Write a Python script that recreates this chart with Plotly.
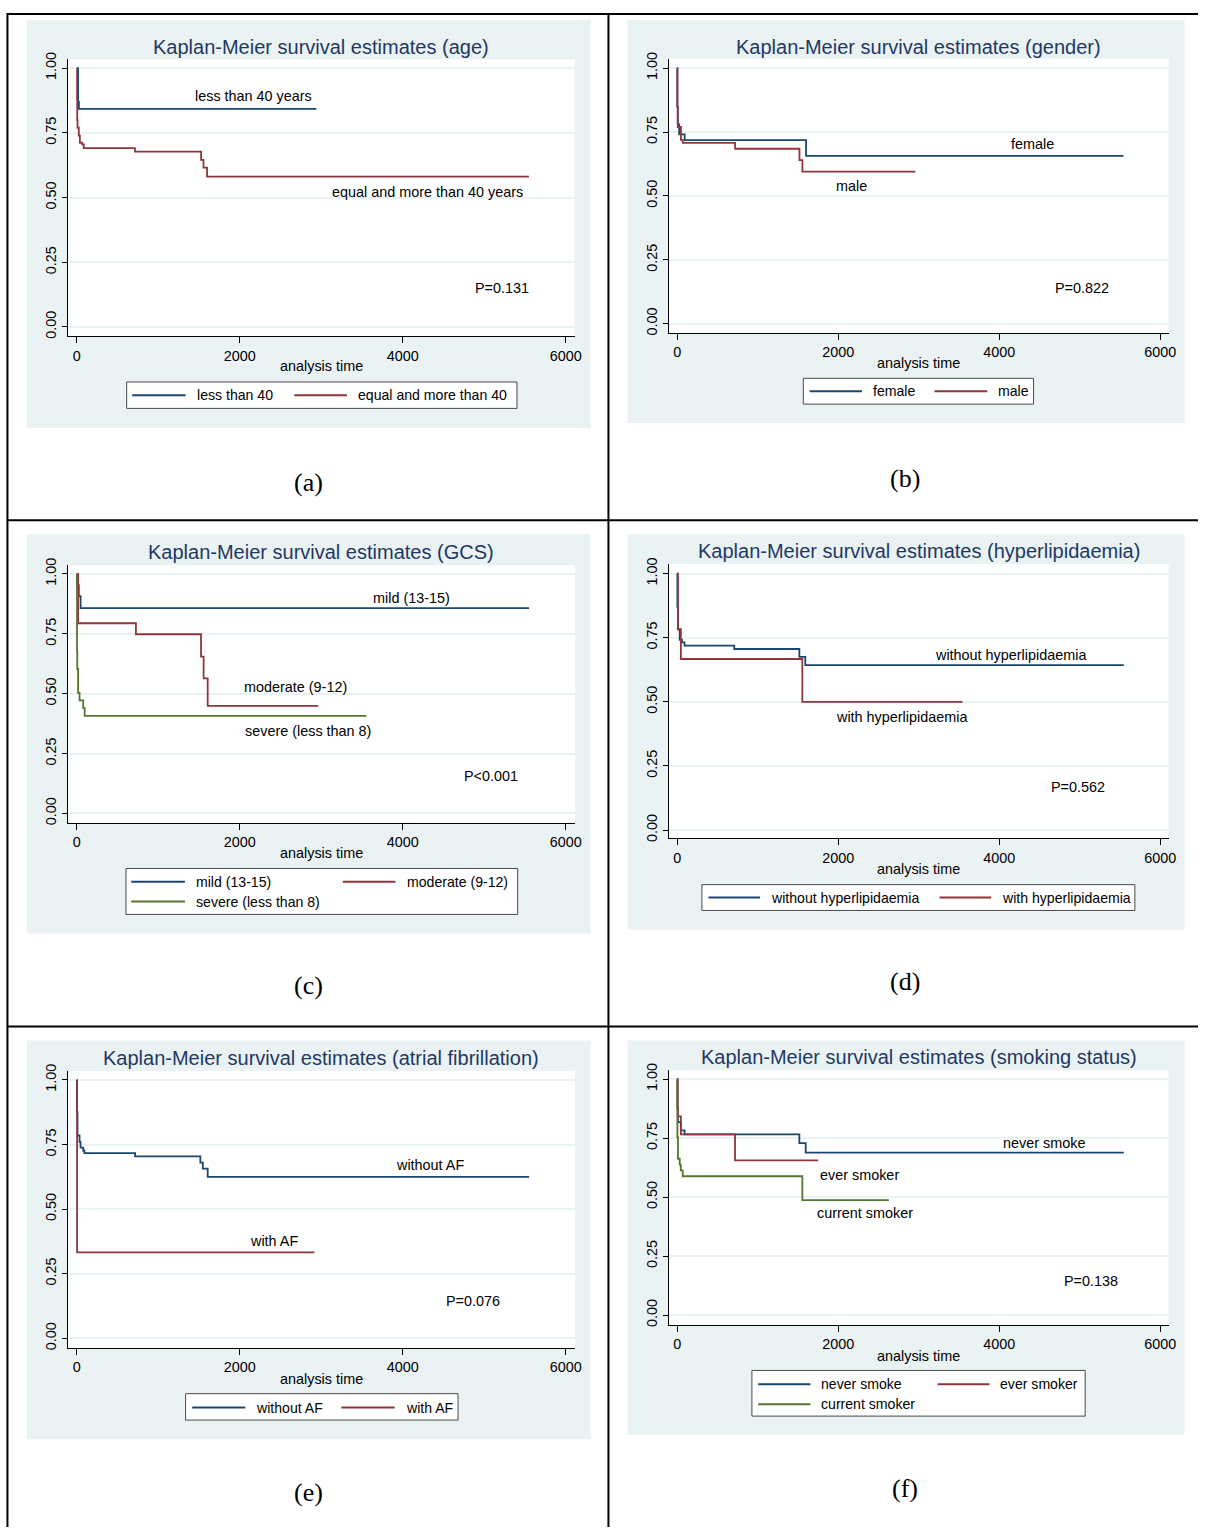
import plotly.graph_objects as go

W, H = 1205, 1531

NAVY = "#1a476f"
MAROON = "#90353b"
GREEN = "#55752f"
PANEL_BG = "#eaf2f3"
GRID = "#eaf2f3"
TITLE_COLOR = "#1f3864"
SANS = "Liberation Sans, Arial, Helvetica, sans-serif"
SERIF = "Liberation Serif, Times New Roman, serif"
TEXT_SIZE = 14.4
LEGEND_SIZE = 14.1

# shared axis ticks
x_ticks = [0, 2000, 4000, 6000]
y_ticks = [0.0, 0.25, 0.50, 0.75, 1.00]

# (a) age
age_lt40_t = [0, 15, 25, 2940]
age_lt40_s = [1.0, 0.87, 0.843, 0.843]
age_ge40_t = [0, 3, 5, 8, 24, 37, 66, 85, 713, 1525, 1554, 1598, 5549]
age_ge40_s = [1.0, 0.88, 0.80, 0.77, 0.74, 0.712, 0.706, 0.691, 0.678, 0.646, 0.616, 0.581, 0.581]

# (b) gender
female_t = [0, 3, 8, 25, 93, 1601, 5543]
female_s = [1.0, 0.85, 0.78, 0.741, 0.719, 0.657, 0.657]
male_t = [0, 3, 8, 47, 70, 720, 1519, 1556, 2960]
male_s = [1.0, 0.85, 0.77, 0.72, 0.708, 0.685, 0.640, 0.595, 0.595]

# (c) GCS
mild_t = [0, 5, 24, 46, 5551]
mild_s = [1.0, 0.953, 0.907, 0.857, 0.857]
moderate_t = [0, 15, 725, 1524, 1556, 1606, 2962]
moderate_s = [1.0, 0.794, 0.748, 0.655, 0.564, 0.449, 0.449]
severe_t = [0, 2, 5, 15, 33, 78, 96, 3553]
severe_s = [1.0, 0.675, 0.603, 0.503, 0.472, 0.44, 0.407, 0.407]

# (d) hyperlipidaemia
no_hl_t = [0, 3, 10, 32, 59, 91, 709, 1518, 1592, 5548]
no_hl_s = [1.0, 0.87, 0.783, 0.742, 0.732, 0.719, 0.706, 0.675, 0.643, 0.643]
hl_t = [0, 10, 46, 1555, 3543]
hl_s = [1.0, 0.783, 0.667, 0.5, 0.5]

# (e) atrial fibrillation
no_af_t = [0, 3, 8, 33, 45, 78, 92, 715, 1516, 1546, 1606, 5551]
no_af_s = [1.0, 0.875, 0.785, 0.76, 0.738, 0.727, 0.717, 0.704, 0.68, 0.657, 0.625, 0.625]
af_t = [0, 3, 2916]
af_s = [1.0, 0.333, 0.333]

# (f) smoking status
never_t = [0, 3, 10, 46, 92, 1518, 1597, 5548]
never_s = [1.0, 0.88, 0.818, 0.783, 0.766, 0.729, 0.689, 0.689]
ever_t = [0, 8, 46, 719, 1752]
ever_s = [1.0, 0.843, 0.766, 0.656, 0.656]
current_t = [0, 3, 10, 32, 45, 69, 1555, 2629]
current_s = [1.0, 0.755, 0.663, 0.638, 0.614, 0.589, 0.488, 0.488]

# Panel geometry in page pixels:
# bg = grey graph region, plot = white plot region (l, t, r, b),
# x0/x6 = pixel of t=0 / t=6000, y1/y0 = pixel of S=1 / S=0
panels = [
    dict(title="Kaplan-Meier survival estimates (age)", tag="(a)", tag_xy=(310, 479),
         bg=(27, 13, 594, 424), plot=(68, 52.7, 578, 331.7), x0=77.3, x6=569, y1=61.7, y0=322.3,
         title_y=40, xtitle_y=362,
         series=[(age_lt40_t, age_lt40_s, NAVY, "less than 40"),
                 (age_ge40_t, age_ge40_s, MAROON, "equal and more than 40")],
         legend_box=(127.4, 377.7, 520, 404.3),
         legend_keys=[(133, 186.7, 196, 391, 0), (296, 349, 357.8, 391, 1)],
         labels=[("less than 40 years", 255, 90), ("equal and more than 40 years", 430, 186)],
         p=("P=0.131", 505, 283.3)),
    dict(title="Kaplan-Meier survival estimates (gender)", tag="(b)", tag_xy=(910, 475),
         bg=(631, 13, 1191.5, 419), plot=(673, 52, 1175.6, 328), x0=681.1, x6=1167, y1=61.7, y0=319,
         title_y=40, xtitle_y=359,
         series=[(female_t, female_s, NAVY, "female"),
                 (male_t, male_s, MAROON, "male")],
         legend_box=(808, 374, 1039.6, 400),
         legend_keys=[(814.4, 867, 875.6, 387, 0), (940, 993, 1001.5, 387, 1)],
         labels=[("female", 1038.5, 138), ("male", 856, 180.7)],
         p=("P=0.822", 1088.5, 282.7)),
    dict(title="Kaplan-Meier survival estimates (GCS)", tag="(c)", tag_xy=(310, 986),
         bg=(27, 531, 594, 933.3), plot=(68, 562.3, 578.5, 821.7), x0=77.3, x6=569, y1=571, y0=812.3,
         title_y=549, xtitle_y=852.3,
         series=[(mild_t, mild_s, NAVY, "mild (13-15)"),
                 (moderate_t, moderate_s, MAROON, "moderate (9-12)"),
                 (severe_t, severe_s, GREEN, "severe (less than 8)")],
         legend_box=(126.7, 867.7, 520.7, 914),
         legend_keys=[(132, 186, 194.8, 881, 0), (344.8, 397.8, 407, 881, 1), (132, 186, 194.8, 901, 2)],
         labels=[("mild (13-15)", 413.5, 595.3), ("moderate (9-12)", 297, 685.3),
                 ("severe (less than 8)", 309.3, 729.3)],
         p=("P<0.001", 493.7, 774.3)),
    dict(title="Kaplan-Meier survival estimates (hyperlipidaemia)", tag="(d)", tag_xy=(910, 982),
         bg=(631, 531, 1191.5, 929.3), plot=(673, 561, 1175.6, 837.3), x0=681.1, x6=1167, y1=570.7, y0=829,
         title_y=548.3, xtitle_y=868.3,
         series=[(no_hl_t, no_hl_s, NAVY, "without hyperlipidaemia"),
                 (hl_t, hl_s, MAROON, "with hyperlipidaemia")],
         legend_box=(706, 884, 1141.5, 910),
         legend_keys=[(712.6, 764.4, 773.7, 897, 0), (945, 997, 1006, 897, 1)],
         labels=[("without hyperlipidaemia", 1016.9, 652.3), ("with hyperlipidaemia", 906.7, 715)],
         p=("P=0.562", 1084.4, 785.3)),
    dict(title="Kaplan-Meier survival estimates (atrial fibrillation)", tag="(e)", tag_xy=(310, 1496),
         bg=(27, 1041, 594, 1442.7), plot=(68, 1071.7, 578.5, 1350.7), x0=77.3, x6=569, y1=1080.7, y0=1341,
         title_y=1058.3, xtitle_y=1381.7,
         series=[(no_af_t, no_af_s, NAVY, "without AF"),
                 (af_t, af_s, MAROON, "with AF")],
         legend_box=(186.7, 1396.7, 460.7, 1423.3),
         legend_keys=[(193.3, 246.7, 255.2, 1410.7, 0), (343.3, 397, 406.3, 1410.7, 1)],
         labels=[("without AF", 433, 1166), ("with AF", 275.6, 1242.7)],
         p=("P=0.076", 475.7, 1303.3)),
    dict(title="Kaplan-Meier survival estimates (smoking status)", tag="(f)", tag_xy=(910, 1492),
         bg=(631, 1041, 1191.5, 1438.3), plot=(673, 1071, 1175.6, 1327.3), x0=681.1, x6=1167, y1=1080, y0=1317.7,
         title_y=1057.3, xtitle_y=1358.3,
         series=[(never_t, never_s, NAVY, "never smoke"),
                 (ever_t, ever_s, MAROON, "ever smoker"),
                 (current_t, current_s, GREEN, "current smoker")],
         legend_box=(756.3, 1373.3, 1091.5, 1419.3),
         legend_keys=[(762.6, 815.2, 823.7, 1387.3, 0), (943, 995.2, 1004, 1387.3, 1),
                      (762.6, 815.2, 823.7, 1407.3, 2)],
         labels=[("never smoke", 1050.6, 1144.3), ("ever smoker", 865, 1176),
                 ("current smoker", 870.4, 1215)],
         p=("P=0.138", 1097.2, 1283.3)),
]


def fx(x):
    return x / W


def fy(y):
    return 1 - y / H


fig = go.Figure()
shapes = []
annotations = []
layout_axes = {}

for i, pn in enumerate(panels, start=1):
    xa = "x" if i == 1 else f"x{i}"
    ya = "y" if i == 1 else f"y{i}"
    l, t, r, b = pn["plot"]
    bl, bt, br, bb = pn["bg"]

    # grey graph region and white plot region
    shapes.append(dict(type="rect", xref="paper", yref="paper", layer="below",
                       x0=fx(bl), x1=fx(br), y0=fy(bb), y1=fy(bt),
                       fillcolor=PANEL_BG, line=dict(width=0)))
    shapes.append(dict(type="rect", xref="paper", yref="paper", layer="below",
                       x0=fx(l), x1=fx(r), y0=fy(b), y1=fy(t),
                       fillcolor="white", line=dict(width=0)))

    # axis ranges so that ticks land on the calibrated pixels
    tpp = 6000.0 / (pn["x6"] - pn["x0"])
    spp = 1.0 / (pn["y0"] - pn["y1"])
    xrange = [(l - pn["x0"]) * tpp, (r - pn["x0"]) * tpp]
    yrange = [(pn["y0"] - b) * spp, (pn["y0"] - t) * spp]

    layout_axes["xaxis" if i == 1 else f"xaxis{i}"] = dict(
        domain=[fx(l), fx(r)], range=xrange, anchor=ya,
        tickmode="array", tickvals=x_ticks, ticks="outside", ticklen=6, tickwidth=1,
        tickcolor="black", showline=True, linecolor="black", linewidth=1,
        showgrid=False, zeroline=False, tickfont=dict(family=SANS, size=TEXT_SIZE, color="black"),
        fixedrange=True)
    layout_axes["yaxis" if i == 1 else f"yaxis{i}"] = dict(
        domain=[fy(b), fy(t)], range=yrange, anchor=xa,
        tickmode="array", tickvals=y_ticks, tickformat=".2f", ticks="outside", ticklen=5,
        tickwidth=1, tickcolor="black", tickangle=-90,
        showline=True, linecolor="black", linewidth=1,
        showgrid=True, gridcolor=GRID, gridwidth=2, zeroline=False,
        tickfont=dict(family=SANS, size=TEXT_SIZE, color="black"), fixedrange=True)

    for (tt, ss, col, name) in pn["series"]:
        fig.add_trace(go.Scatter(x=tt, y=ss, mode="lines", name=name,
                                 line=dict(color=col, width=1.8, shape="hv"),
                                 xaxis=xa, yaxis=ya, showlegend=False,
                                 hoverinfo="skip"))

    # title and x-axis caption
    annotations.append(dict(text=pn["title"], x=fx((l + r) / 2), y=fy(pn["title_y"]),
                            xref="paper", yref="paper", showarrow=False,
                            xanchor="center", yanchor="middle",
                            font=dict(family=SANS, size=20, color=TITLE_COLOR)))
    annotations.append(dict(text="analysis time", x=fx((l + r) / 2), y=fy(pn["xtitle_y"]),
                            xref="paper", yref="paper", showarrow=False,
                            xanchor="center", yanchor="middle",
                            font=dict(family=SANS, size=TEXT_SIZE, color="black")))

    # curve labels and p-value
    for (txt, cx, cy) in pn["labels"] + [pn["p"]]:
        annotations.append(dict(text=txt, x=fx(cx), y=fy(cy), xref="paper", yref="paper",
                                showarrow=False, xanchor="center", yanchor="middle",
                                font=dict(family=SANS, size=TEXT_SIZE, color="black")))

    # legend box with line keys
    lx0, ly0, lx1, ly1 = pn["legend_box"]
    shapes.append(dict(type="rect", xref="paper", yref="paper", layer="above",
                       x0=fx(lx0), x1=fx(lx1), y0=fy(ly1), y1=fy(ly0),
                       fillcolor="white", line=dict(color="#4a4a4a", width=1)))
    for (kx0, kx1, tx, ky, si) in pn["legend_keys"]:
        col = pn["series"][si][2]
        shapes.append(dict(type="line", xref="paper", yref="paper", layer="above",
                           x0=fx(kx0), x1=fx(kx1), y0=fy(ky), y1=fy(ky),
                           line=dict(color=col, width=2)))
        annotations.append(dict(text=pn["series"][si][3], x=fx(tx), y=fy(ky),
                                xref="paper", yref="paper", showarrow=False,
                                xanchor="left", yanchor="middle",
                                font=dict(family=SANS, size=LEGEND_SIZE, color="black")))

    # panel tag below each graph
    annotations.append(dict(text=pn["tag"], x=fx(pn["tag_xy"][0]), y=fy(pn["tag_xy"][1]),
                            xref="paper", yref="paper", showarrow=False,
                            xanchor="center", yanchor="middle",
                            font=dict(family=SERIF, size=26, color="black")))

# table rules framing the six graphs
rules = [
    (7, 7, 1205, 7), (7, 517, 1205, 517), (7, 1027, 1205, 1027),
    (7.5, 6, 7.5, 1531), (612, 6, 612, 1531),
]
for (x0, y0, x1, y1) in rules:
    shapes.append(dict(type="line", xref="paper", yref="paper", layer="above",
                       x0=fx(x0), x1=fx(x1), y0=fy(y0), y1=fy(y1),
                       line=dict(color="black", width=2)))

fig.update_layout(
    width=W, height=H, margin=dict(l=0, r=0, t=0, b=0),
    paper_bgcolor="white", plot_bgcolor="white",
    showlegend=False, shapes=shapes, annotations=annotations,
    **layout_axes,
)

fig.write_html("out.html", config={"displayModeBar": False})
